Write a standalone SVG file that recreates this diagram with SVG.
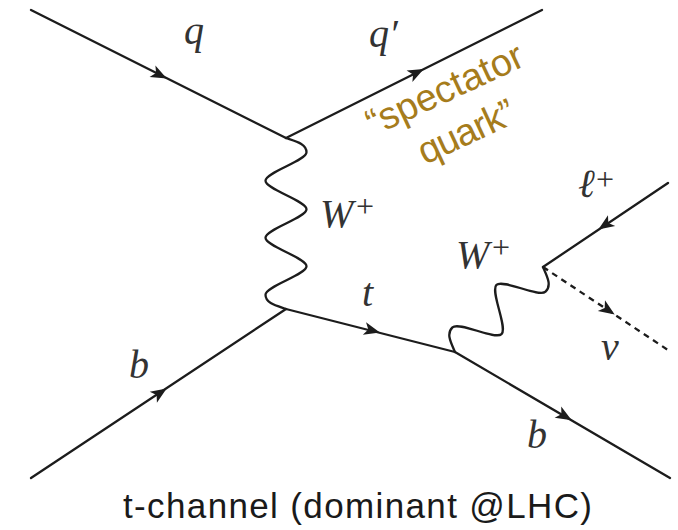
<svg xmlns="http://www.w3.org/2000/svg" xmlns:xlink="http://www.w3.org/1999/xlink" width="678" height="530" viewBox="0 0 678 530">
<defs>
<style>
.ln{fill:none;stroke:#1c1c1c;stroke-width:2.3;stroke-linecap:round}
.wv{fill:none;stroke:#1c1c1c;stroke-width:2.3;stroke-linecap:round;stroke-linejoin:round}
.ds{fill:none;stroke:#1c1c1c;stroke-width:2.3;stroke-dasharray:6 5}
.m{font-family:"Liberation Serif","DejaVu Serif",serif;font-style:italic;font-size:40px;fill:#333}
.sup{font-family:"Liberation Serif","DejaVu Serif",serif;font-size:32px;fill:#333}
.spec{font-family:"Liberation Sans",Arial,sans-serif;font-size:38px;fill:#A67C1C}
.cap{font-family:"Liberation Sans",Arial,sans-serif;font-size:35px;fill:#1a1a1a}
</style>
<path id="arr" d="M2,0 L-14,-6.5 L-10,0 L-14,6.5 Z" fill="#1c1c1c"/>
</defs>
<rect width="678" height="530" fill="#fff"/>
<g id="connectors">
<path class="ln" d="M31,10 L286,138"/>
<path class="ln" d="M286,138 L542,10"/>
<path class="ln" d="M31,478 L286,309"/>
<path class="ln" d="M286,309 L455,352"/>
<path class="ln" d="M455,352 L670,478"/>
<path class="ln" d="M668,183 L543,267"/>
<path class="ds" d="M543,267 L671,352"/>
<path class="wv" transform="translate(286,138) rotate(90)" d="M0,0 C3.4,-10 5.75,-20.5 14.25,-20.5 C22.75,-20.5 34.25,20.5 42.75,20.5 C51.25,20.5 62.75,-20.5 71.25,-20.5 C79.75,-20.5 91.25,20.5 99.75,20.5 C108.25,20.5 119.75,-20.5 128.25,-20.5 C136.75,-20.5 148.25,20.5 156.75,20.5 C165.25,20.5 167.6,10 171,0"/>
<path class="wv" transform="translate(455,352) rotate(-44)" d="M0,0 C3.7,-10 6.3,-19.5 15.29,-19.5 C24.3,-19.5 36.9,19.5 45.87,19.5 C54.9,19.5 67.45,-19.5 76.45,-19.5 C85.45,-19.5 98,19.5 107.03,19.5 C116,19.5 118.6,10 122.3,0"/>
<use xlink:href="#arr" transform="translate(165,77.5) rotate(26.65)"/>
<use xlink:href="#arr" transform="translate(422,70) rotate(-26.57)"/>
<use xlink:href="#arr" transform="translate(165,389.5) rotate(-33.5)"/>
<use xlink:href="#arr" transform="translate(378,332) rotate(14.3)"/>
<use xlink:href="#arr" transform="translate(570,419.3) rotate(30.4)"/>
<use xlink:href="#arr" transform="translate(600,228.5) rotate(146.1)"/>
<use xlink:href="#arr" transform="translate(613,313.5) rotate(33.8)"/>
</g>
<g id="label-q"><text class="m" x="184" y="44">q</text></g>
<g id="label-qprime"><text class="m" x="369" y="47">q′</text></g>
<g id="label-spectator">
<text class="spec" transform="translate(373.6,136.4) rotate(-25)" textLength="169">“spectator</text>
<text class="spec" transform="translate(425,165) rotate(-25)" textLength="103">quark”</text>
</g>
<g id="label-W1"><text class="m" x="320" y="227">W</text><text class="sup" x="356" y="217">+</text></g>
<g id="label-W2"><text class="m" x="456" y="268">W</text><text class="sup" x="492" y="258">+</text></g>
<g id="label-t"><text class="m" x="362" y="306">t</text></g>
<g id="label-l"><text class="m" x="578" y="197">ℓ</text><text class="sup" x="596" y="190">+</text></g>
<g id="label-nu"><text class="m" x="601" y="360">ν</text></g>
<g id="label-b1"><text class="m" x="129" y="378">b</text></g>
<g id="label-b2"><text class="m" x="527" y="448">b</text></g>
<g id="caption"><text class="cap" x="123" y="518" textLength="469">t-channel (dominant @LHC)</text></g>
</svg>
